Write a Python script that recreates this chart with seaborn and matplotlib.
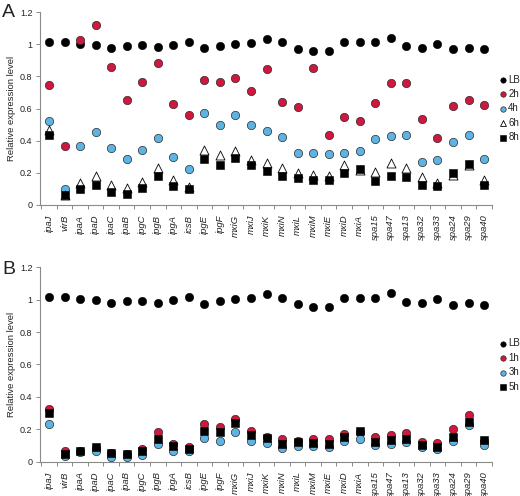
import matplotlib
matplotlib.use("Agg")
import matplotlib.pyplot as plt
import seaborn as sns
import numpy as np
from matplotlib.ticker import FixedLocator, FixedFormatter

sns.set_style("white")
plt.rcParams['font.family'] = ['Liberation Sans', 'DejaVu Sans']

genes = ['ipaJ', 'virB', 'ipaA', 'ipaD', 'ipaC', 'ipaB', 'ipgC', 'ipgB', 'ipgA', 'icsB',
         'ipgE', 'ipgF', 'mxiG', 'mxiJ', 'mxiK', 'mxiN', 'mxiL', 'mxiM', 'mxiE', 'mxiD',
         'mxiA', 'spa15', 'spa47', 'spa13', 'spa32', 'spa33', 'spa24', 'spa29', 'spa40']

LB = [1.016, 1.016, 1.004, 0.996, 0.977, 0.990, 0.992, 0.981, 0.998, 1.016,
      0.975, 0.990, 1.004, 1.010, 1.033, 1.012, 0.973, 0.957, 0.957, 1.012,
      1.012, 1.012, 1.041, 0.986, 0.977, 1.002, 0.969, 0.977, 0.969]

A_2h = [0.749, 0.364, 1.027, 1.121, 0.860, 0.656, 0.765, 0.881, 0.628, 0.560,
        0.776, 0.765, 0.788, 0.706, 0.844, 0.640, 0.611, 0.852, 0.438, 0.549,
        0.523, 0.632, 0.757, 0.759, 0.535, 0.418, 0.615, 0.650, 0.619]
A_4h = [0.521, 0.099, 0.364, 0.457, 0.356, 0.288, 0.344, 0.416, 0.300, 0.224,
        0.574, 0.498, 0.558, 0.498, 0.463, 0.422, 0.323, 0.323, 0.317, 0.325,
        0.333, 0.409, 0.432, 0.438, 0.267, 0.278, 0.389, 0.438, 0.284]
A_6h = [0.469, 0.065, 0.136, 0.181, 0.123, 0.103, 0.144, 0.233, 0.154, 0.113,
        0.344, 0.311, 0.337, 0.278, 0.263, 0.230, 0.202, 0.187, 0.181, 0.247,
        0.215, 0.206, 0.259, 0.230, 0.177, 0.136, 0.185, 0.250, 0.158]
A_8h = [0.438, 0.062, 0.097, 0.126, 0.082, 0.066, 0.103, 0.179, 0.119, 0.097,
        0.284, 0.249, 0.294, 0.249, 0.210, 0.181, 0.165, 0.154, 0.154, 0.198,
        0.226, 0.148, 0.183, 0.177, 0.126, 0.117, 0.200, 0.255, 0.126]

B_1h = [0.326, 0.068, 0.065, 0.084, 0.055, 0.050, 0.078, 0.181, 0.109, 0.088,
        0.232, 0.214, 0.261, 0.187, 0.155, 0.142, 0.125, 0.142, 0.138, 0.170,
        0.185, 0.150, 0.166, 0.175, 0.121, 0.117, 0.203, 0.287, 0.130]
B_3h = [0.232, 0.035, 0.060, 0.066, 0.031, 0.027, 0.039, 0.109, 0.066, 0.064,
        0.146, 0.127, 0.183, 0.125, 0.117, 0.084, 0.097, 0.097, 0.092, 0.125,
        0.138, 0.101, 0.109, 0.121, 0.088, 0.080, 0.125, 0.226, 0.105]
B_5h = [0.302, 0.045, 0.066, 0.088, 0.051, 0.045, 0.064, 0.138, 0.097, 0.080,
        0.187, 0.181, 0.236, 0.162, 0.146, 0.109, 0.121, 0.113, 0.109, 0.150,
        0.187, 0.121, 0.133, 0.142, 0.101, 0.092, 0.154, 0.242, 0.133]

yticks = [0, 0.2, 0.4, 0.6, 0.8, 1.0, 1.2]
ytick_labels = ['0', '0.2', '0.4', '0.6', '0.8', '1', '1.2']

RED = '#d0173f'
BLUE = '#5db3e2'
EDGE = '#2b2b2b'

styles = {
    'LB': dict(marker='o', color='black', edgecolor='black', s=36, linewidth=0.4),
    'red': dict(marker='o', color=RED, edgecolor=EDGE, s=36, linewidth=0.5),
    'blue': dict(marker='o', color=BLUE, edgecolor=EDGE, s=36, linewidth=0.5),
    'tri': dict(marker='^', color='white', edgecolor='black', s=42, linewidth=0.6),
    'sq': dict(marker='s', color='black', edgecolor='black', s=31, linewidth=0.4),
}

fig = plt.figure(figsize=(5.2, 4.96), dpi=100)
axA = fig.add_axes([0.0769, 0.5867, 0.869, 0.389])
axB = fig.add_axes([0.0769, 0.0692, 0.869, 0.392])


def draw(ax, series):
    for label, vals, key in series:
        sns.scatterplot(x=genes, y=vals, ax=ax, label=label, zorder=3, clip_on=False,
                        **styles[key])


def style_axes(ax):
    ax.set_xlim(-0.58, 28.48)
    ax.set_ylim(0, 1.2)
    ax.yaxis.set_major_locator(FixedLocator(yticks))
    ax.yaxis.set_major_formatter(FixedFormatter(ytick_labels))
    for sp in ['top', 'right']:
        ax.spines[sp].set_visible(False)
    for sp in ['left', 'bottom']:
        ax.spines[sp].set_color('#8a8a8a')
        ax.spines[sp].set_linewidth(0.8)
    ax.tick_params(axis='y', which='major', direction='out', length=3, width=0.7,
                   color='#8a8a8a', labelsize=6.5, pad=2.5, left=True, labelcolor='#222222')
    ax.set_xticks(range(len(genes)))
    ax.set_xticklabels(genes, rotation=90, fontsize=6.8, style='italic', color='#222222')
    ax.set_xticks(np.arange(-0.5, len(genes), 1.0), minor=True)
    ax.tick_params(axis='x', which='major', length=0, pad=7)
    ax.tick_params(axis='x', which='minor', direction='out', length=3, width=0.7,
                   color='#8a8a8a', bottom=True)
    ax.set_ylabel('Relative expression level', fontsize=6.8, labelpad=3, color='#222222')
    ax.set_xlabel('')
    ax.grid(False)


draw(axA, [('LB', LB, 'LB'), ('2h', A_2h, 'red'), ('4h', A_4h, 'blue'),
           ('6h', A_6h, 'tri'), ('8h', A_8h, 'sq')])
draw(axB, [('LB', LB, 'LB'), ('1h', B_1h, 'red'), ('3h', B_3h, 'blue'),
           ('5h', B_5h, 'sq')])

for ax, yc in [(axA, 0.7816), (axB, 0.2641)]:
    style_axes(ax)
    leg = ax.legend(loc='center left', bbox_to_anchor=(0.9615, yc),
                    bbox_transform=fig.transFigure, frameon=False, fontsize=7,
                    markerscale=0.65, handlelength=0.6, handletextpad=0.25,
                    labelspacing=0.45, borderpad=0, borderaxespad=0)
    for t in leg.get_texts():
        t.set_color('#222222')

fig.text(0.004, 0.992, 'A', fontsize=14, va='top', ha='left', color='#222222')
fig.text(0.004, 0.474, 'B', fontsize=14, va='top', ha='left', color='#222222')

fig.savefig('out.png', dpi=100)
